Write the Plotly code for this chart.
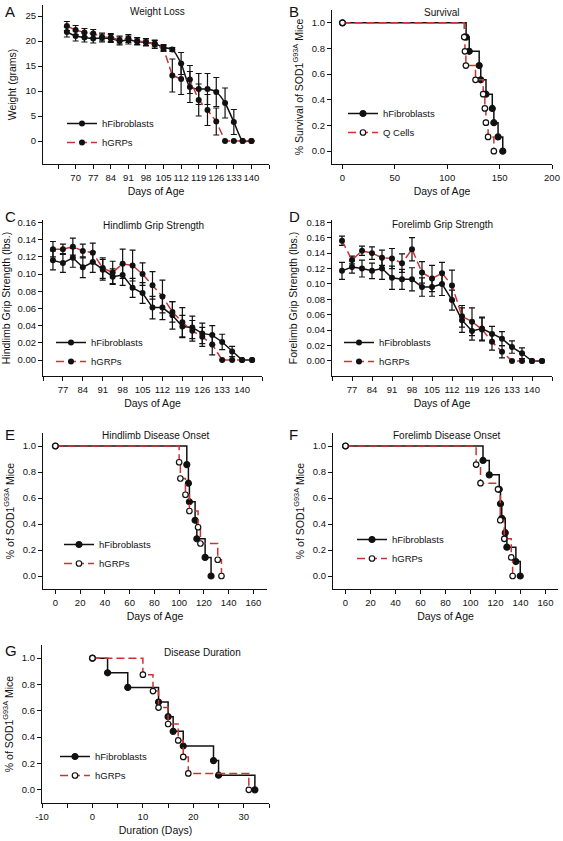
import plotly.graph_objects as go

# ---------------- DATA ----------------
# A: Weight loss
days_a = [66.5, 70, 73.5, 77, 80.5, 84, 87.5, 91, 94.5, 98, 101.5, 105, 108.5, 112, 115.5, 119, 122.5, 126, 129.5, 133, 136.5, 140]
wt_hf = [21.8, 21.0, 20.7, 20.5, 20.6, 20.5, 20.0, 20.2, 19.9, 19.7, 19.5, 18.7, 18.3, 15.5, 10.8, 10.4, 10.4, 9.8, 7.6, 3.8, 0, 0]
wt_hf_err = [1.0, 1.0, 0.9, 0.9, 0.8, 0.8, 0.8, 0.8, 0.7, 0.7, 0.7, 0.6, 0.4, 2.2, 3.1, 3.1, 3.1, 2.9, 3.0, 2.5, 0, 0]
wt_hg = [23.0, 22.2, 21.7, 21.5, 20.8, 20.7, 20.2, 20.5, 20.0, 19.8, 19.3, 18.5, 13.1, 12.4, 12.3, 8.2, 6.2, 3.9, 0, 0, 0, 0]
wt_hg_err = [0.9, 0.9, 0.8, 0.8, 0.8, 0.8, 0.8, 0.8, 0.7, 0.7, 0.8, 0.6, 3.3, 3.1, 2.8, 3.2, 3.1, 2.7, 0, 0, 0, 0]

# B: Survival (Kaplan-Meier)
surv_hf_t = [0, 118, 121, 130.5, 132, 137, 143, 144.5, 148.5, 153]
surv_hf_s = [1.0, 0.889, 0.778, 0.667, 0.556, 0.444, 0.333, 0.222, 0.111, 0.0]
surv_q_t = [0, 116.2, 116.9, 117.8, 127, 134.3, 135.9, 136.9, 139, 144.5]
surv_q_s = [1.0, 0.889, 0.778, 0.667, 0.556, 0.444, 0.333, 0.222, 0.111, 0.0]

# C: Hindlimb grip strength
days_c = [73.5, 77, 80.5, 84, 87.5, 91, 94.5, 98, 101.5, 105, 108.5, 112, 115.5, 119, 122.5, 126, 129.5, 133, 136.5, 140, 143.5]
hind_hf = [0.116, 0.113, 0.119, 0.108, 0.114, 0.105, 0.097, 0.099, 0.084, 0.078, 0.061, 0.061, 0.052, 0.039, 0.038, 0.031, 0.029, 0.021, 0.010, 0, 0]
hind_hf_err = [0.011, 0.011, 0.011, 0.012, 0.012, 0.012, 0.009, 0.012, 0.011, 0.012, 0.013, 0.014, 0.016, 0.013, 0.013, 0.012, 0.011, 0.009, 0.006, 0, 0]
hind_hg = [0.129, 0.129, 0.132, 0.127, 0.125, 0.107, 0.102, 0.112, 0.110, 0.100, 0.087, 0.074, 0.056, 0.044, 0.034, 0.027, 0.018, 0, 0, 0, 0]
hind_hg_err = [0.009, 0.006, 0.010, 0.008, 0.011, 0.012, 0.013, 0.017, 0.018, 0.013, 0.016, 0.019, 0.012, 0.017, 0.012, 0.011, 0.012, 0, 0, 0, 0]

# D: Forelimb grip strength
days_d = [73.5, 77, 80.5, 84, 87.5, 91, 94.5, 98, 101.5, 105, 108.5, 112, 115.5, 119, 122.5, 126, 129.5, 133, 136.5, 140, 143.5]
fore_hf = [0.117, 0.122, 0.120, 0.117, 0.120, 0.108, 0.106, 0.106, 0.096, 0.096, 0.100, 0.079, 0.053, 0.039, 0.042, 0.035, 0.029, 0.018, 0.010, 0, 0]
fore_hf_err = [0.011, 0.008, 0.011, 0.010, 0.014, 0.015, 0.013, 0.015, 0.012, 0.012, 0.015, 0.013, 0.016, 0.012, 0.015, 0.010, 0.009, 0.008, 0.007, 0, 0]
fore_hg = [0.156, 0.131, 0.143, 0.140, 0.134, 0.133, 0.127, 0.145, 0.115, 0.107, 0.114, 0.098, 0.058, 0.051, 0.041, 0.025, 0.012, 0, 0, 0, 0]
fore_hg_err = [0.006, 0.005, 0.006, 0.008, 0.010, 0.013, 0.012, 0.015, 0.014, 0.017, 0.014, 0.020, 0.014, 0.018, 0.015, 0.011, 0.008, 0, 0, 0, 0]

# E: Hindlimb disease onset
hon_hf_t = [0, 106.2, 107.5, 108.3, 112.9, 114.3, 121, 125.8]
hon_hf_s = [1.0, 0.857, 0.714, 0.571, 0.429, 0.286, 0.143, 0.0]
hon_hg_t = [0, 100, 101, 105.1, 108.3, 115.3, 117.2, 131.2, 134.2]
hon_hg_s = [1.0, 0.875, 0.75, 0.625, 0.5, 0.375, 0.25, 0.125, 0.0]

# F: Forelimb disease onset
fon_hf_t = [0, 110, 115, 123, 124, 125, 127.8, 129.1, 136.3, 139.8]
fon_hf_s = [1.0, 0.889, 0.778, 0.667, 0.556, 0.444, 0.333, 0.222, 0.111, 0.0]
fon_hg_t = [0, 104.5, 108, 122, 123.8, 127, 132.6, 133.7]
fon_hg_s = [1.0, 0.857, 0.714, 0.667, 0.429, 0.286, 0.143, 0.0]

# G: Disease duration
dur_hf_t = [0, 3, 7, 13.1, 15, 16, 18, 24, 25, 32.2]
dur_hf_s = [1.0, 0.889, 0.778, 0.667, 0.556, 0.444, 0.333, 0.222, 0.111, 0.0]
dur_hg_t = [0, 10, 12, 13.1, 15, 17, 18, 19, 31]
dur_hg_s = [1.0, 0.875, 0.75, 0.625, 0.5, 0.375, 0.25, 0.125, 0.0]

# ---------------- STYLE ----------------
W, H = 563, 841
FONT = "Liberation Sans, Arial, sans-serif"
RED = "#cc3333"
BLACK = "#111111"
DASH = "8px,4px"

def px_x(a, b):
    return [a / W, b / W]

def px_y(top, bottom):
    return [1 - bottom / H, 1 - top / H]

fig = go.Figure()

def err_trace(x, y, e, name, ax, color, dash, legend, spline=False):
    fig.add_trace(go.Scatter(
        x=x, y=y, name=name, mode="lines+markers",
        line=dict(color=color, width=1.5, dash=dash, shape="spline" if spline else "linear", smoothing=0.6),
        marker=dict(symbol="circle", size=6, color=BLACK),
        error_y=dict(type="data", array=e, color=BLACK, thickness=1.2, width=3),
        xaxis="x" + ax, yaxis="y" + ax, legend=legend,
    ))

def km_trace(t, s, name, ax, color, dash, hollow, legend):
    fig.add_trace(go.Scatter(
        x=t, y=s, name=name, mode="lines+markers",
        line=dict(color=color, width=1.5, dash=dash, shape="hv"),
        marker=dict(symbol="circle", size=5.5 if hollow else 6,
                    color="white" if hollow else BLACK,
                    line=dict(color=BLACK, width=1.2)),
        xaxis="x" + ax, yaxis="y" + ax, legend=legend,
    ))

# A
err_trace(days_a, wt_hf, wt_hf_err, "hFibroblasts", "", BLACK, "solid", "legend", spline=True)
err_trace(days_a, wt_hg, wt_hg_err, "hGRPs", "", RED, DASH, "legend")
# B
km_trace(surv_hf_t, surv_hf_s, "hFibroblasts", "2", BLACK, "solid", False, "legend2")
km_trace(surv_q_t, surv_q_s, "Q Cells", "2", RED, DASH, True, "legend2")
# C
err_trace(days_c, hind_hf, hind_hf_err, "hFibroblasts", "3", BLACK, "solid", "legend3")
err_trace(days_c, hind_hg, hind_hg_err, "hGRPs", "3", RED, DASH, "legend3")
# D
err_trace(days_d, fore_hf, fore_hf_err, "hFibroblasts", "4", BLACK, "solid", "legend4")
err_trace(days_d, fore_hg, fore_hg_err, "hGRPs", "4", RED, DASH, "legend4")
# E
km_trace(hon_hf_t, hon_hf_s, "hFibroblasts", "5", BLACK, "solid", False, "legend5")
km_trace(hon_hg_t, hon_hg_s, "hGRPs", "5", RED, DASH, True, "legend5")
# F
km_trace(fon_hf_t, fon_hf_s, "hFibroblasts", "6", BLACK, "solid", False, "legend6")
km_trace(fon_hg_t, fon_hg_s, "hGRPs", "6", RED, DASH, True, "legend6")
# G
km_trace(dur_hf_t, dur_hf_s, "hFibroblasts", "7", BLACK, "solid", False, "legend7")
km_trace(dur_hg_t, dur_hg_s, "hGRPs", "7", RED, DASH, True, "legend7")

TICKF = dict(family=FONT, size=9.5, color=BLACK)
TITLEF = dict(family=FONT, size=10.5, color=BLACK)

def common(dom, rng, tv, tt, title, anchor, minor_vals):
    d = dict(domain=dom, range=rng, tickvals=tv, ticktext=tt, anchor=anchor,
             showline=True, linecolor=BLACK, linewidth=1.2, mirror=False,
             ticks="outside", ticklen=4, tickwidth=1, tickcolor=BLACK,
             showgrid=False, zeroline=False, tickfont=TICKF, tickangle=0,
             ticklabeloverflow="allow",
             title=dict(text=title, font=TITLEF, standoff=6), automargin=False)
    if minor_vals:
        d["minor"] = dict(tickvals=minor_vals, ticks="outside", ticklen=4,
                          tickwidth=1, tickcolor=BLACK, showgrid=False)
    return d

def xaxis(dom, rng, tv, title, anchor, minor_vals=None, fmt="{}"):
    return common(dom, rng, tv, [fmt.format(v) for v in tv], title, anchor, minor_vals)

def yaxis(dom, rng, tv, title, anchor, fmt="{}"):
    return common(dom, rng, tv, [fmt.format(v) for v in tv], title, anchor, None)

xa_week = [70, 77, 84, 91, 98, 105, 112, 119, 126, 133, 140]
xa_minor = [63, 147]
xc_week = [77, 84, 91, 98, 105, 112, 119, 126, 133, 140]
xc_minor = [70, 147]
y_frac = [0, 0.2, 0.4, 0.6, 0.8, 1.0]
x_surv = [0, 50, 100, 150, 200]
x_onset = [0, 20, 40, 60, 80, 100, 120, 140, 160]
x_dur = [-10, 0, 10, 20, 30]
x_dur_minor = [-5, 5, 15, 25, 35]
ya_vals = [0, 5, 10, 15, 20, 25]
yc_vals = [0, 0.02, 0.04, 0.06, 0.08, 0.10, 0.12, 0.14, 0.16]
yd_vals = [0, 0.02, 0.04, 0.06, 0.08, 0.10, 0.12, 0.14, 0.16, 0.18]
SOD = "% of SOD1<sup>G93A</sup> Mice"

layout = dict(
    xaxis=xaxis(px_x(43, 269), [57, 147], xa_week, "Days of Age", "y", xa_minor),
    yaxis=yaxis(px_y(5, 164), [-4.6, 27.2], ya_vals, "Weight (grams)", "x"),
    xaxis2=xaxis(px_x(332, 552), [-10, 200], x_surv, "Days of Age", "y2"),
    yaxis2=yaxis(px_y(10, 164), [-0.1, 1.1], y_frac, "% Survival of SOD1<sup>G93A</sup> Mice", "x2", "{:.1f}"),
    xaxis3=xaxis(px_x(43, 262), [70, 147], xc_week, "Days of Age", "y3", xc_minor),
    yaxis3=yaxis(px_y(220, 376), [-0.0186, 0.163], yc_vals, "Hindlimb Grip Strength (lbs.)", "x3", "{:.2f}"),
    xaxis4=xaxis(px_x(332, 552), [70, 147], xc_week, "Days of Age", "y4", xc_minor),
    yaxis4=yaxis(px_y(220, 376), [-0.0195, 0.183], yd_vals, "Forelimb Grip Strength (lbs.)", "x4", "{:.2f}"),
    xaxis5=xaxis(px_x(43, 267), [-10, 171], x_onset, "Days of Age", "y5"),
    yaxis5=yaxis(px_y(433, 589), [-0.1, 1.1], y_frac, SOD, "x5", "{:.1f}"),
    xaxis6=xaxis(px_x(333, 558), [-10, 170], x_onset, "Days of Age", "y6"),
    yaxis6=yaxis(px_y(433, 589), [-0.1, 1.1], y_frac, SOD, "x6", "{:.1f}"),
    xaxis7=xaxis(px_x(42, 269), [-10, 35], x_dur, "Duration (Days)", "y7", x_dur_minor),
    yaxis7=yaxis(px_y(645, 803), [-0.1, 1.1], y_frac, SOD, "x7", "{:.1f}"),
)

LEGF = dict(family=FONT, size=9.5, color=BLACK)

def legend(text_x, top_y):
    return dict(x=(text_x - 38) / W, y=1 - top_y / H, xanchor="left", yanchor="top",
                bgcolor="rgba(0,0,0,0)", borderwidth=0, font=LEGF,
                tracegroupgap=0, itemwidth=30)

layout.update(
    legend=legend(100, 109),
    legend2=legend(381, 99),
    legend3=legend(89, 328),
    legend4=legend(377, 328),
    legend5=legend(97, 530),
    legend6=legend(390, 525),
    legend7=legend(93, 742),
)

annotations = []
for txt, x, y in [("Weight Loss", 157, 11), ("Survival", 442, 13), ("Hindlimb Grip Strength", 153, 225),
                  ("Forelimb Grip Strength", 442, 224), ("Hindlimb Disease Onset", 155, 435),
                  ("Forelimb Disease Onset", 446, 435), ("Disease Duration", 202, 652)]:
    annotations.append(dict(text=txt, x=x / W, y=1 - y / H, xref="paper", yref="paper",
                            showarrow=False, xanchor="center", yanchor="middle",
                            font=dict(family=FONT, size=10, color=BLACK)))
for txt, x, y in [("A", 3, 1), ("B", 287, 1), ("C", 3, 206), ("D", 287, 206),
                  ("E", 3, 424), ("F", 287, 424), ("G", 3, 640)]:
    annotations.append(dict(text=txt, x=x / W, y=1 - y / H, xref="paper", yref="paper",
                            showarrow=False, xanchor="left", yanchor="top",
                            font=dict(family=FONT, size=15, color=BLACK)))

fig.update_layout(
    **layout,
    annotations=annotations,
    width=W, height=H,
    margin=dict(l=0, r=0, t=0, b=0),
    paper_bgcolor="white", plot_bgcolor="white",
    font=dict(family=FONT, color=BLACK),
    showlegend=True,
)

fig.write_html("out.html", include_plotlyjs=True, config={"displayModeBar": False},
               post_script="document.body.style.margin='0';document.body.style.overflow='hidden';")
